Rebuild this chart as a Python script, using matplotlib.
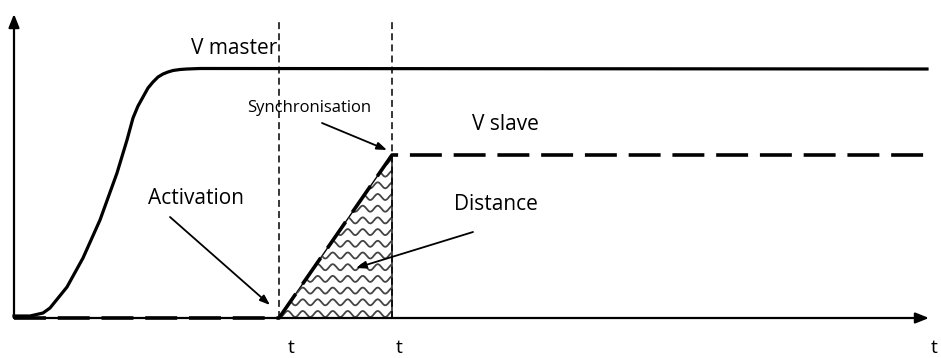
import numpy as np
import matplotlib
matplotlib.use("Agg")
import matplotlib.pyplot as plt
from matplotlib.patches import Polygon

plt.rcParams['font.family'] = ['Open Sans', 'DejaVu Sans']
plt.rcParams['lines.scale_dashes'] = False

# master speed profile (time, speed)
t_master = [0, 16, 29, 36, 53, 69, 86, 103, 113, 119, 124, 129, 134, 139, 144, 149, 154, 159, 166, 173, 186, 913]
v_master = [2, 2, 5, 10, 31, 60, 98, 145, 178, 200, 212, 221, 230, 236, 241, 244, 246, 247.5, 248.5, 249, 249.5, 249]

# slave speed profile: idle, ramp from activation to synchronisation, then constant
t_act = 265
t_sync = 378
v_slave_sync = 163
t_slave = [0, t_act, t_sync, 913]
v_slave = [0, 0, v_slave_sync, v_slave_sync]

t_end = 915
v_top = 304
marker_top = 298

fig = plt.figure(figsize=(9.41, 3.58), dpi=100)
ax = fig.add_axes([0, 0, 1, 1])
ax.set_xlim(-14, 927)
ax.set_ylim(-40, 318)
ax.axis('off')

# distance area (triangle under the ramp) with a wavy hatch
tri = Polygon([(t_act, 0), (t_sync, v_slave_sync), (t_sync, 0)], closed=True,
              facecolor='white', edgecolor='black', lw=1.0, zorder=2)
ax.add_patch(tri)
xs = np.linspace(t_act, t_sync, 400)
for y0 in np.arange(4, v_slave_sync + 6, 11.7):
    ln, = ax.plot(xs, y0 + 3.0 * np.sin(2 * np.pi * xs / 15.0), color='#444444', lw=1.3, zorder=3)
    ln.set_clip_path(tri)

# vertical dashed markers
for tx in (t_act, t_sync):
    ax.plot([tx, tx], [0, marker_top], color='black', lw=1.1, dashes=(5, 3), zorder=4)

# axes with arrow heads
axis_kw = dict(arrowstyle='-|>,head_length=0.8,head_width=0.32', color='black', lw=1.6,
               shrinkA=0, shrinkB=0)
ax.annotate('', xy=(0, v_top), xytext=(0, 0), arrowprops=axis_kw, zorder=5)
ax.annotate('', xy=(t_end, 0), xytext=(0, 0), arrowprops=axis_kw, zorder=5)

# speed curves
ax.plot(t_master, v_master, color='black', lw=2.3, solid_joinstyle='round', zorder=6)
ax.plot(t_slave, v_slave, color='black', lw=2.6, dashes=(23, 8.5), zorder=6)

# labels
fs = 15
ax.text(220, 270, 'V master', fontsize=fs, ha='center', va='center')
ax.text(295, 210, 'Synchronisation', fontsize=12, ha='center', va='center')
ax.text(491, 194, 'V slave', fontsize=fs, ha='center', va='center')
ax.text(182, 120, 'Activation', fontsize=fs, ha='center', va='center')
ax.text(482, 113, 'Distance', fontsize=fs, ha='center', va='center')
ax.text(277, -39, 't', fontsize=14, ha='center', va='bottom')
ax.text(385, -39, 't', fontsize=14, ha='center', va='bottom')
ax.text(920, -39, 't', fontsize=14, ha='center', va='bottom')

arrow_kw = dict(arrowstyle='-|>,head_length=0.6,head_width=0.22', color='black', lw=1.3,
                shrinkA=0, shrinkB=0)
ax.annotate('', xy=(256, 13), xytext=(156, 101), arrowprops=arrow_kw)
ax.annotate('', xy=(373, 168), xytext=(308, 195), arrowprops=arrow_kw)
ax.annotate('', xy=(342, 50), xytext=(459, 86), arrowprops=arrow_kw, zorder=7)

fig.savefig('out.png', dpi=100)
